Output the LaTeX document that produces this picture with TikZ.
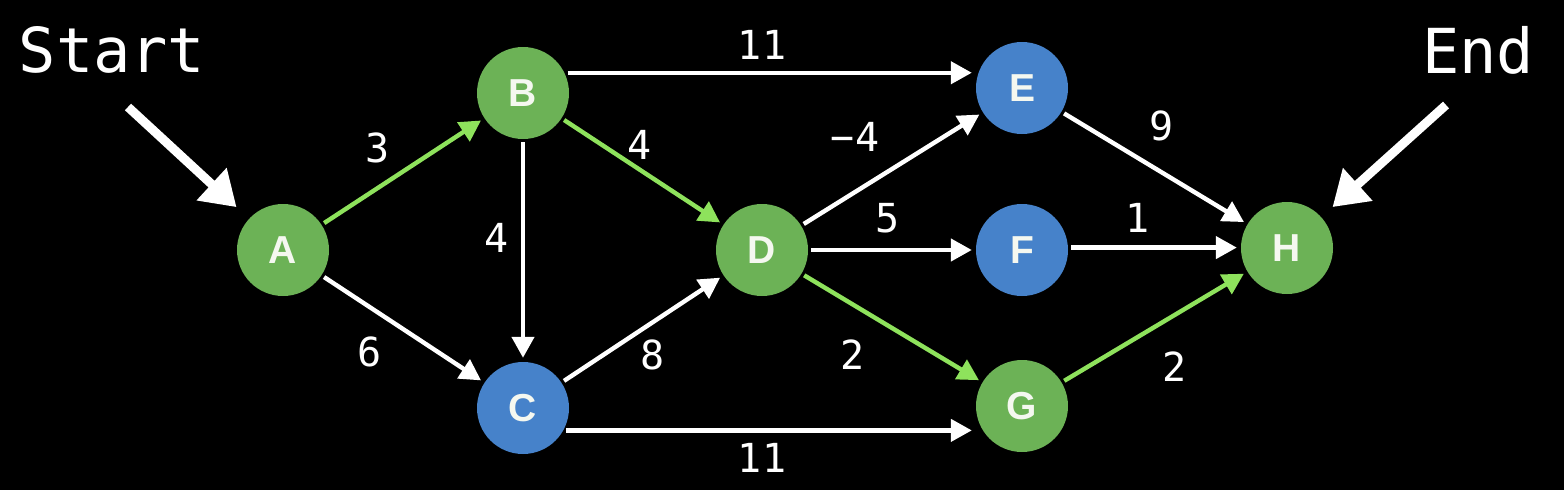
\documentclass[tikz,border=0pt]{standalone}
\usepackage{fontspec}
\usetikzlibrary{arrows.meta}
\newfontfamily\lblfont{DejaVu Sans Mono}
\newfontfamily\nodefont{Liberation Sans}
\definecolor{ngreen}{RGB}{108,178,86}
\definecolor{nblue}{RGB}{70,130,202}
\definecolor{egreen}{RGB}{142,226,92}
\definecolor{ntext}{RGB}{245,248,240}
\begin{document}
\begin{tikzpicture}[x=1pt,y=-1pt,
  vtx/.style={circle,minimum size=92pt,inner sep=0pt,fill=ngreen,text=ntext,
    font=\nodefont\bfseries\fontsize{39}{39}\selectfont},
  bluev/.style={vtx,fill=nblue},
  edge/.style={draw=white,line width=4.4pt,-{Triangle[length=21pt,width=22pt]},
    shorten <=3pt,shorten >=4pt},
  hot/.style={edge,draw=egreen,color=egreen},
  lbl/.style={text=white,font=\lblfont\fontsize{40}{40}\selectfont,inner sep=0pt},
  title/.style={text=white,font=\lblfont\fontsize{62}{62}\selectfont,inner sep=0pt},
  bigarrow/.style={draw=white,line width=9pt,-{Triangle[length=34pt,width=42pt]}}]
\fill[black] (0,0) rectangle (1564,490);
\useasboundingbox (0,0) rectangle (1564,490);

\node[vtx] (A) at (283,250) {A};
\node[vtx] (B) at (523,93) {B};
\node[bluev] (C) at (523,408) {C};
\node[vtx] (D) at (762,250) {D};
\node[bluev] (E) at (1022,88) {E};
\node[bluev] (F) at (1022,250) {F};
\node[vtx] (G) at (1022,406) {G};
\node[vtx] (H) at (1287,248) {H};

\node[title] (start) at (112,50) {Start};
\node[title] (end) at (1478,50) {End};
\coordinate (s1) at (128,107);
\coordinate (e1) at (1446,105);
\draw[bigarrow,shorten >=17pt] (s1) -- (A);
\draw[bigarrow,shorten >=15pt] (e1) -- (H);

\draw[hot] (A) -- (B);
\draw[edge] (A) -- (C);
\draw[edge] (B) -- (C);
\draw[hot] (B) -- (D);
\draw[edge] (B.26) -- (B.26 -| E.west);
\draw[edge] (C) -- (D);
\draw[edge] (C.-29) -- (C.-29 -| G.west);
\draw[edge] (D) -- (E);
\draw[edge] (D) -- (F);
\draw[hot] (D) -- (G);
\draw[edge] (E) -- (H);
\draw[edge] (F.3) -- (F.3 -| H.west);
\draw[hot] (G) -- (H);

\node[lbl] (lab) at (378,148) {3};
\node[lbl] (lac) at (370,352) {6};
\node[lbl] (lbc) at (497,238) {4};
\node[lbl] (lbd) at (640,145) {4};
\node[lbl] (lbe) at (762,45) {11};
\node[lbl] (lcg) at (762,458) {11};
\node[lbl] (lcd) at (653,355) {8};
\node[lbl] (lde) at (855,137) {−4};
\node[lbl] (ldf) at (888,218) {5};
\node[lbl] (ldg) at (853,355) {2};
\node[lbl] (leh) at (1162,126) {9};
\node[lbl] (lfh) at (1138,218) {1};
\node[lbl] (lgh) at (1175,367) {2};
\end{tikzpicture}
\end{document}
